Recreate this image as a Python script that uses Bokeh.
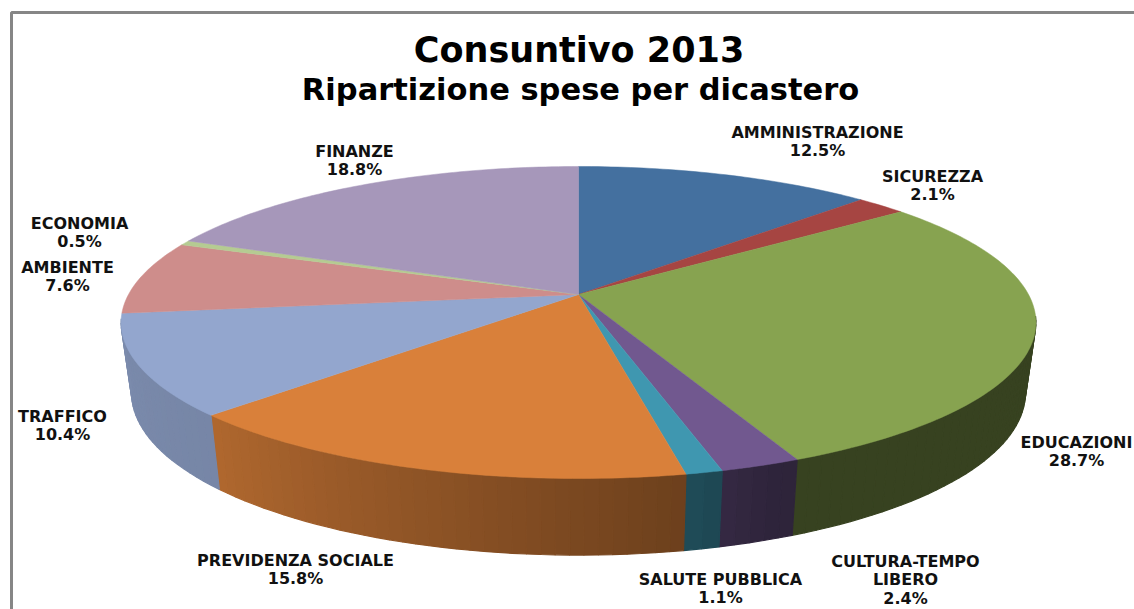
import numpy as np
from bokeh.plotting import figure
from bokeh.models import Range1d
from bokeh.core.properties import value
from bokeh.embed import file_html
from bokeh.resources import INLINE

# ---- data ----
categories = ["AMMINISTRAZIONE", "SICUREZZA", "EDUCAZIONI", "CULTURA-TEMPO\nLIBERO", "SALUTE PUBBLICA",
              "PREVIDENZA SOCIALE", "TRAFFICO", "AMBIENTE", "ECONOMIA", "FINANZE"]
shares = [12.5, 2.1, 28.7, 2.4, 1.1, 15.8, 10.4, 7.6, 0.5, 18.8]
colors = ["#44709f", "#a64542", "#87a350", "#71588f", "#3f97b0",
          "#d9803a", "#93a6ce", "#ce8d8b", "#b5cb92", "#a697ba"]
title_lines = ["Consuntivo 2013", "Ripartizione spese per dicastero"]

# ---- layout (pixel-space scene) ----
W, H = 1134, 609
CX, CY = 578.0, 294.0          # projected pie centre
RX, RY, PERSP = 450.0, 151.0, 0.1795
BOTTOM_SCALE, BOTTOM_DY, BOTTOM_STRETCH = 0.977, 74.0, 1.04
LABEL_XY = [(817, 132), (932, 176), (1076, 442), (905, 561), (720, 579),
            (295, 560), (62, 416), (67, 267), (79, 223), (354, 151)]
LINE_H = 18.4
FONT = "DejaVu Sans"
WALL_FROM, WALL_TO = np.radians(98), np.radians(261)


def top_rim(theta):
    s = 1.0 / (1.0 + PERSP * np.cos(theta))
    return CX + RX * np.sin(theta) * s, CY - RY * np.cos(theta) * s


def bottom_rim(theta):
    x, y = top_rim(theta)
    return CX + (x - CX) * BOTTOM_SCALE, y + BOTTOM_DY + (y - 414.0) * (BOTTOM_STRETCH - 1.0)


def shade(hex_color, theta):
    deg = np.degrees(theta)
    f = float(np.interp(deg, [0, 158, 168, 225, 262, 360], [0.41, 0.41, 0.50, 0.81, 0.84, 0.84]))
    rgb = [int(hex_color[i:i + 2], 16) for i in (1, 3, 5)]
    return "#%02x%02x%02x" % tuple(int(c * f) for c in rgb)


edges = np.radians(np.concatenate([[0], np.cumsum(shares)]) / sum(shares) * 360.0)

p = figure(width=W, height=H, x_range=Range1d(0, W), y_range=Range1d(H, 0),
           output_backend="svg", toolbar_location=None, min_border=0,
           background_fill_color="white", border_fill_color="white", outline_line_color=None)
p.axis.visible = False
p.grid.visible = False

# frame of the chart area
p.line([11, 11, W], [H, 12, 12], line_color="#868686", line_width=3)

# side wall, drawn strip by strip so the shading can vary around the rim
sx, sy, sc = [], [], []
for i, col in enumerate(colors):
    a0, a1 = max(edges[i], WALL_FROM), min(edges[i + 1], WALL_TO)
    if a1 <= a0:
        continue
    n = max(1, int(np.degrees(a1 - a0) / 1.5))
    t = np.linspace(a0, a1, n + 1)
    for j in range(n):
        x0, y0 = top_rim(t[j]); x1, y1 = top_rim(t[j + 1])
        x2, y2 = bottom_rim(t[j + 1]); x3, y3 = bottom_rim(t[j])
        sx.append([x0, x1, x2, x3]); sy.append([y0, y1, y2, y3])
        sc.append(shade(col, 0.5 * (t[j] + t[j + 1])))
p.patches(sx, sy, fill_color=sc, line_color=sc, line_width=1.2)

# top face wedges
wx, wy = [], []
for i in range(len(shares)):
    t = np.linspace(edges[i], edges[i + 1], max(3, int(np.degrees(edges[i + 1] - edges[i])) + 2))
    x, y = top_rim(t)
    wx.append([CX] + list(x)); wy.append([CY] + list(y))
p.patches(wx, wy, fill_color=colors, line_color=colors, line_width=0.5)

# titles
p.text([578.5], [49], text=[title_lines[0]], text_font=value(FONT), text_font_style="bold",
       text_font_size="35px", text_align="center", text_baseline="middle", text_color="#000000")
p.text([580], [89], text=[title_lines[1]], text_font=value(FONT), text_font_style="bold",
       text_font_size="30.5px", text_align="center", text_baseline="middle", text_color="#000000")

# data labels
lx, ly, lt = [], [], []
for name, v, (x, y) in zip(categories, shares, LABEL_XY):
    rows = name.split("\n") + [f"{v:.1f}%"]
    for k, row in enumerate(rows):
        lx.append(x); ly.append(y + k * LINE_H); lt.append(row)
p.text(lx, ly, text=lt, text_font=value(FONT), text_font_style="bold", text_font_size="16px",
       text_align="center", text_baseline="middle", text_color="#111111")

open("out.html", "w").write(file_html(p, INLINE))
